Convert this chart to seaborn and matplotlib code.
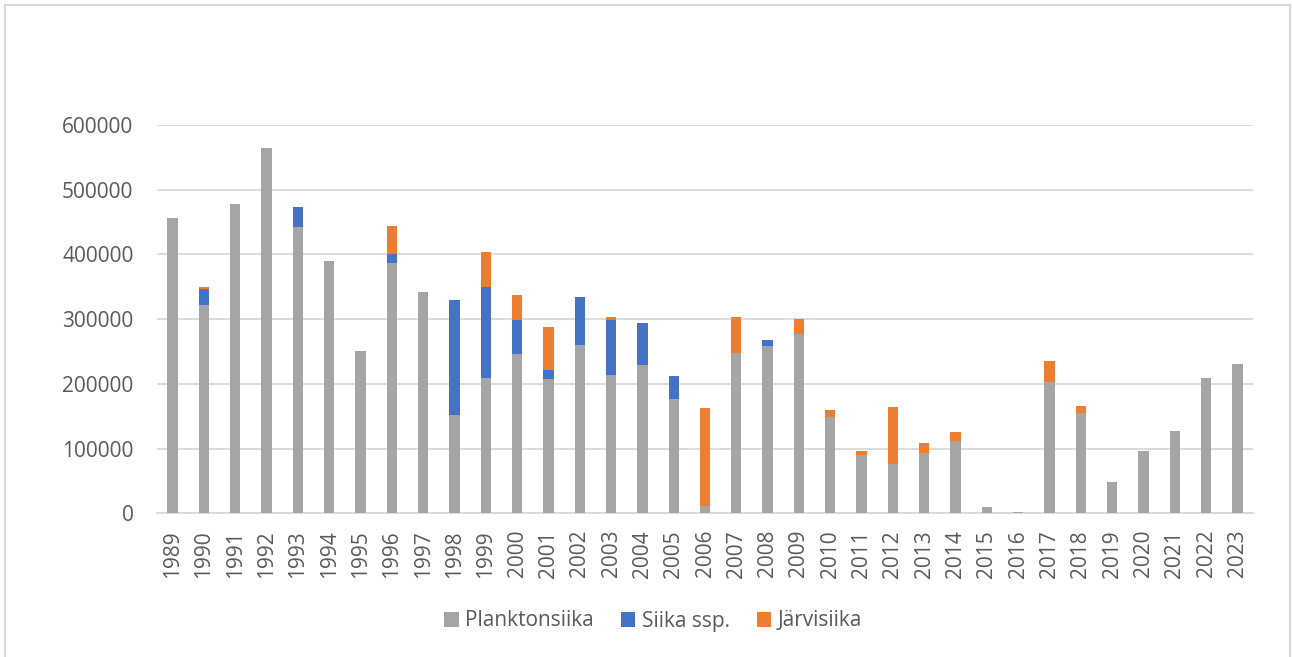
import matplotlib
matplotlib.use("Agg")
import matplotlib.pyplot as plt
from matplotlib.lines import Line2D
from matplotlib.patches import Patch
import numpy as np
import pandas as pd
import seaborn as sns

years = [str(y) for y in range(1989, 2024)]

plankton = [456000, 322000, 478000, 564500, 443000, 390500, 251000, 387000, 341500, 152000,
            209000, 246000, 207500, 260000, 214000, 229000, 176000, 12000, 248000, 258500,
            277500, 149000, 90000, 76000, 93000, 112000, 10000, 2000, 202500, 155000,
            48000, 96500, 127000, 208500, 231000]

siika_ssp = [0, 24000, 0, 0, 30000, 0, 0, 14000, 0, 178000,
             141000, 53000, 13500, 74000, 84000, 65000, 36000, 0, 0, 9000,
             0, 0, 0, 0, 0, 0, 0, 0, 0, 0,
             0, 0, 0, 0, 0]

jarvisiika = [0, 3000, 0, 0, 0, 0, 0, 43000, 0, 0,
              53500, 38000, 66500, 0, 6000, 0, 0, 150000, 55000, 0,
              23000, 11000, 6000, 88000, 15000, 14000, 0, 0, 33000, 11000,
              0, 0, 0, 0, 0]

series_names = ["Planktonsiika", "Siika ssp.", "Järvisiika"]
colors = ["#A5A5A5", "#4472C4", "#ED7D31"]
y_ticks = [0, 100000, 200000, 300000, 400000, 500000, 600000]

df = pd.DataFrame({
    "year": years,
    "plankton": plankton,
    "siika": siika_ssp,
    "jarvi": jarvisiika,
})
df["lvl1"] = df["plankton"]
df["lvl2"] = df["plankton"] + df["siika"]
df["lvl3"] = df["lvl2"] + df["jarvi"]

sns.set_theme(style="white")
plt.rcParams["font.family"] = ["Open Sans", "DejaVu Sans"]
text_color = "#595959"
grid_color = "#D9D9D9"
fs = 15

fig = plt.figure(figsize=(12.92, 6.57), dpi=100)
ax = fig.add_axes([157 / 1292, 1 - 513.3 / 657, (1253 - 157) / 1292, (513.3 - 125) / 657])

# Stacked bars: draw cumulative totals from the top layer down
for col, color in zip(["lvl3", "lvl2", "lvl1"], colors[::-1]):
    sns.barplot(data=df, x="year", y=col, color=color, width=0.33,
                saturation=1, linewidth=0, ax=ax, zorder=3)

ax.set_ylim(0, 600000)
ax.set_xlim(-0.5, len(years) - 0.5)
ax.set_yticks(y_ticks)
ax.set_yticklabels([str(v) for v in y_ticks])
ax.set_xlabel("")
ax.set_ylabel("")
ax.yaxis.grid(True, color=grid_color, linewidth=1.3, zorder=0)
ax.set_axisbelow(True)
for side in ["top", "right", "left"]:
    ax.spines[side].set_visible(False)
ax.spines["bottom"].set_color(grid_color)
ax.spines["bottom"].set_linewidth(1.3)
ax.tick_params(axis="both", length=0, colors=text_color, labelsize=fs)
ax.tick_params(axis="y", pad=17)
ax.tick_params(axis="x", pad=12)
for lab in ax.get_xticklabels():
    lab.set_rotation(90)

handles = [Patch(facecolor=c, edgecolor="none") for c in colors]
fig.legend(handles, series_names, loc="center", bbox_to_anchor=(653 / 1292, 1 - 621 / 657),
           ncol=3, frameon=False, fontsize=fs, labelcolor=text_color,
           handlelength=0.7, handleheight=0.7, handletextpad=0.3, columnspacing=1.3)

# Chart frame
fw, fh = 1292, 657
for xs, ys in [((5, 1290), (5, 5)), ((5, 5), (5, 660)), ((1290, 1290), (5, 660))]:
    fig.add_artist(Line2D([x / fw for x in xs], [1 - y / fh for y in ys],
                          color=grid_color, linewidth=1.5, transform=fig.transFigure))

fig.savefig("out.png", dpi=100, facecolor="white")
